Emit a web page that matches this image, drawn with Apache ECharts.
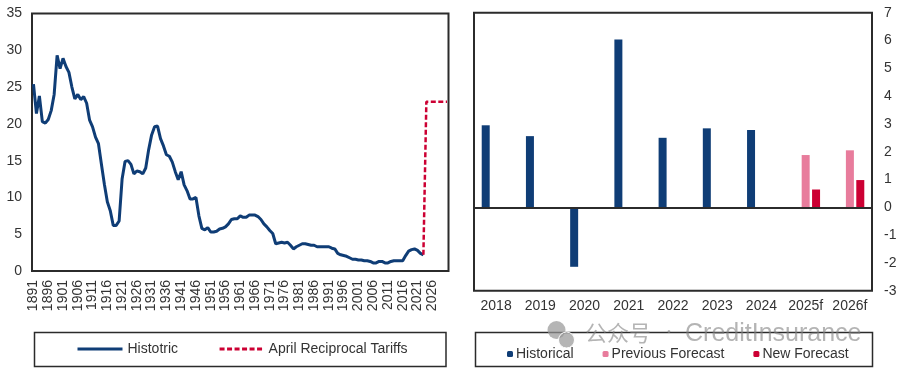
<!DOCTYPE html>
<html>
<head>
<meta charset="utf-8">
<script src="https://cdn.jsdelivr.net/npm/echarts@6/dist/echarts.min.js"></script>
<style>
	* { margin: 0; padding: 0; }
	body { background: #fff; }
	#chart { width: 900px; height: 372px; }
</style>
</head>
<body>
<div id="chart"></div>
<script>
	// left panel, one value per year from 1891
	var firstYear = 1891
	var lastYear = 2031
	var lastLabelYear = 2026
	var historic = [
		25.4, 21.4, 23.8, 20.3, 20.1, 20.6, 21.8, 24.0, 29.3, 27.5,
		28.9, 27.8, 27.0, 25.0, 23.4, 24.0, 23.3, 23.7, 22.8, 20.5,
		19.6, 18.2, 17.3, 14.5, 11.8, 9.4, 8.2, 6.2, 6.2, 6.8,
		12.5, 14.9, 15.0, 14.5, 13.2, 13.6, 13.5, 13.2, 14.0, 16.5,
		18.5, 19.6, 19.7, 18.0, 17.0, 15.8, 15.6, 14.8, 13.5, 12.4,
		13.5, 11.7, 10.9, 9.8, 9.8, 10.0, 7.5, 5.8, 5.6, 5.9,
		5.3, 5.3, 5.4, 5.7, 5.8, 6.0, 6.4, 7.0, 7.1, 7.1,
		7.5, 7.3, 7.3, 7.6, 7.6, 7.6, 7.4, 7.0, 6.4, 6.0,
		5.5, 5.1, 3.7, 3.8, 3.9, 3.8, 3.9, 3.5, 3.0, 3.3,
		3.5, 3.7, 3.7, 3.6, 3.5, 3.5, 3.3, 3.3, 3.3, 3.3,
		3.3, 3.1, 3.0, 2.4, 2.2, 2.1, 2.0, 1.8, 1.6, 1.6,
		1.5, 1.5, 1.4, 1.4, 1.3, 1.1, 1.1, 1.3, 1.3, 1.1,
		1.1, 1.3, 1.4, 1.4, 1.4, 1.4, 2.1, 2.7, 2.9, 3.0,
		2.8, 2.4, 2.2
	]
	// tariff line starts where the historic one stops (2023)
	var tariffStart = 2.2
	var tariffValue = [23, 23, 23, 23, 23, 23, 23, 23]

	// right panel
	var gdpYears = ['2018', '2019', '2020', '2021', '2022', '2023', '2024', '2025f', '2026f']
	var historical = [2.95, 2.56, -2.14, 6.04, 2.5, 2.84, 2.78, null, null]
	var previousForecast = [null, null, null, null, null, null, null, 1.88, 2.05]
	var newForecast = [null, null, null, null, null, null, null, 0.64, 0.98]

	var navy = '#0f3d76'
	var red = '#cc0033'
	var pink = '#e87c9c'
	var frame = '#2b2b2b'
	var text = '#333333'
	var font = '"Liberation Sans", Arial, sans-serif'

	var years = []
	for (var y = firstYear; y <= lastYear; y++) years.push(String(y))

	var tariffData = historic.map(function() { return null })
	tariffData[tariffData.length - 1] = tariffStart
	tariffData = tariffData.concat(tariffValue)

	var chart = echarts.init(document.getElementById('chart'), null, { renderer: 'canvas' })
	chart.setOption({
		animation: false,
		backgroundColor: '#fff',
		textStyle: { fontFamily: font },
		grid: [
			{ left: 32, top: 13.5, width: 416.5, height: 257.5, show: true, borderColor: frame, borderWidth: 2, backgroundColor: '#fff' },
			{ left: 474, top: 12.7, width: 398, height: 278, show: true, borderColor: frame, borderWidth: 2, backgroundColor: '#fff' }
		],
		xAxis: [
			{
				type: 'category',
				gridIndex: 0,
				data: years,
				boundaryGap: true,
				axisLine: { show: false },
				axisTick: { show: false },
				axisLabel: {
					// every fifth year, the last ones have no label
					interval: function(index, value) {
						return index % 5 === 0 && Number(value) <= lastLabelYear
					},
					rotate: 90,
					color: text,
					fontSize: 14,
					margin: 9,
					fontFamily: font
				}
			},
			{
				type: 'category',
				gridIndex: 1,
				data: gdpYears,
				axisLine: { show: false, onZero: false },
				axisTick: { show: false },
				axisLabel: { interval: 0, color: text, fontSize: 14, margin: 8, fontFamily: font }
			}
		],
		yAxis: [
			{
				type: 'value',
				gridIndex: 0,
				min: 0,
				max: 35,
				interval: 5,
				axisLine: { show: false },
				axisTick: { show: false },
				splitLine: { show: false },
				axisLabel: { color: text, fontSize: 14, margin: 10, fontFamily: font }
			},
			{
				type: 'value',
				gridIndex: 1,
				position: 'right',
				min: -3,
				max: 7,
				interval: 1,
				axisLine: { show: false },
				axisTick: { show: false },
				splitLine: { show: false },
				axisLabel: { color: text, fontSize: 14, margin: 12, fontFamily: font }
			}
		],
		legend: [
			{
				left: 71,
				top: 337,
				itemWidth: 45,
				itemHeight: 14,
				itemGap: 40,
				itemStyle: { opacity: 0 },
				lineStyle: { width: 3 },
				textStyle: { color: text, fontSize: 14, fontFamily: font },
				data: [
					{ name: 'Histotric', textStyle: { padding: [0, 0, 0, 0] } },
					{ name: 'April Reciprocal Tariffs', textStyle: { padding: [0, 0, 0, -1] } }
				]
			},
			{
				left: 502,
				top: 342,
				itemWidth: 6,
				itemHeight: 6,
				itemGap: 29,
				textStyle: { color: text, fontSize: 14, padding: [0, 0, 0, -2], fontFamily: font },
				data: ['Historical', 'Previous Forecast', 'New Forecast']
			}
		],
		series: [
			{
				name: 'Histotric',
				type: 'line',
				xAxisIndex: 0,
				yAxisIndex: 0,
				data: historic,
				symbol: 'none',
				z: 3,
				lineStyle: { color: navy, width: 3 },
				itemStyle: { color: navy }
			},
			{
				name: 'April Reciprocal Tariffs',
				type: 'line',
				xAxisIndex: 0,
				yAxisIndex: 0,
				data: tariffData,
				symbol: 'none',
				z: 4,
				lineStyle: { color: red, width: 2.5, type: [5, 2.5] },
				itemStyle: { color: red }
			},
			{
				name: 'Historical',
				type: 'bar',
				xAxisIndex: 1,
				yAxisIndex: 1,
				data: historical,
				barWidth: 8,
				barGap: '30%',
				itemStyle: { color: navy },
				markLine: {
					silent: true,
					symbol: 'none',
					label: { show: false },
					lineStyle: { color: frame, width: 2, type: 'solid' },
					data: [{ yAxis: 0 }]
				}
			},
			{
				name: 'Previous Forecast',
				type: 'bar',
				xAxisIndex: 1,
				yAxisIndex: 1,
				data: previousForecast,
				barWidth: 8,
				barGap: '30%',
				itemStyle: { color: pink }
			},
			{
				name: 'New Forecast',
				type: 'bar',
				xAxisIndex: 1,
				yAxisIndex: 1,
				data: newForecast,
				barWidth: 8,
				barGap: '30%',
				itemStyle: { color: red }
			}
		],
		graphic: [
			// legend frames
			{ type: 'rect', z: -1, shape: { x: 34.5, y: 332.5, width: 411.5, height: 34 }, style: { fill: '#fff', stroke: frame, lineWidth: 1.5 } },
			{ type: 'rect', z: -1, shape: { x: 475.5, y: 332.5, width: 397, height: 34 }, style: { fill: '#fff', stroke: frame, lineWidth: 1.5 } },
			// watermark over the right legend
			{ type: 'circle', z: 50, shape: { cx: 556.5, cy: 330, r: 9 }, style: { fill: 'rgba(150,150,150,0.7)' } },
			{ type: 'circle', z: 50, shape: { cx: 566.5, cy: 340, r: 8 }, style: { fill: 'rgba(150,150,150,0.7)', stroke: '#fff', lineWidth: 1 } },
			{ type: 'text', z: 50, x: 585, y: 322, style: { text: '公众号', fill: 'rgba(130,130,130,0.6)', font: '22px "Noto Sans CJK SC", sans-serif' } },
			{ type: 'text', z: 50, x: 666, y: 322, style: { text: '·', fill: 'rgba(130,130,130,0.6)', font: '22px "Noto Sans", sans-serif' } },
			{ type: 'text', z: 50, x: 685, y: 322, style: { text: 'CreditInsurance', fill: 'rgba(130,130,130,0.6)', font: '25px "Liberation Sans", sans-serif' } }
		]
	})
</script>
</body>
</html>
